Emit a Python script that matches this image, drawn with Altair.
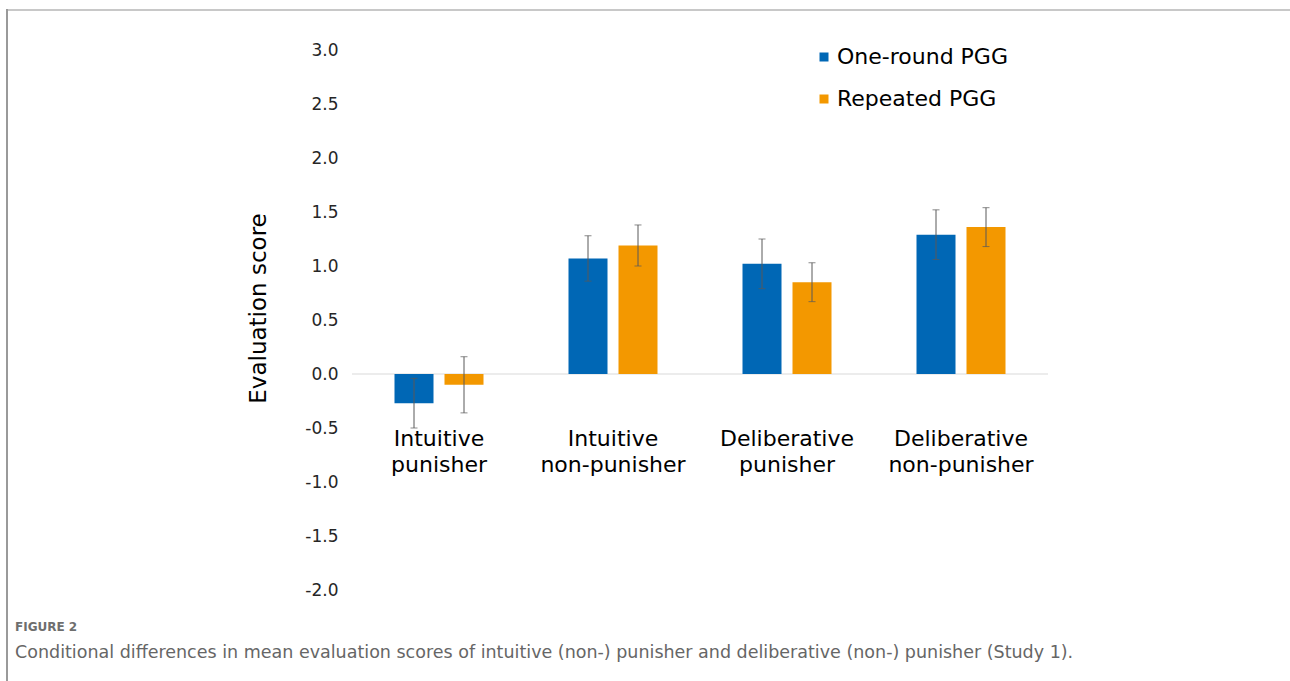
import altair as alt
import pandas as pd

categories = ["Intuitive punisher", "Intuitive non-punisher",
              "Deliberative punisher", "Deliberative non-punisher"]
series = ["One-round PGG", "Repeated PGG"]
one_round = [-0.27, 1.07, 1.02, 1.29]
one_round_err = [0.23, 0.21, 0.23, 0.23]
repeated = [-0.10, 1.19, 0.85, 1.36]
repeated_err = [0.26, 0.19, 0.18, 0.18]
y_ticks = [-2.0, -1.5, -1.0, -0.5, 0.0, 0.5, 1.0, 1.5, 2.0, 2.5, 3.0]
colors = ["#0067B5", "#F39800"]

rows = []
for i, c in enumerate(categories):
    for s, vals, errs in ((series[0], one_round, one_round_err), (series[1], repeated, repeated_err)):
        v, e = vals[i], errs[i]
        rows.append({"cat": c, "series": s, "value": v, "lo": v - e, "hi": v + e})
df = pd.DataFrame(rows)

FONT = "DejaVu Sans"

x_enc = alt.X("cat:N", sort=categories,
              scale=alt.Scale(paddingInner=0, paddingOuter=0),
              axis=alt.Axis(title=None, orient="bottom", offset=-216, domain=False, ticks=False,
                            labelAngle=0, labelFont=FONT, labelFontSize=22, labelColor="#000000",
                            labelPadding=54, labelLineHeight=26, labelBaseline="top",
                            labelExpr="split(datum.label, ' ')"))
xoff = alt.XOffset("series:N", sort=series,
                   scale=alt.Scale(domain=series, paddingInner=0.22, paddingOuter=0.85))
y_scale = alt.Scale(domain=[-2, 3], nice=False, zero=False)

base = alt.Chart(df)

bars = base.mark_bar(stroke=None).encode(
    x=x_enc,
    xOffset=xoff,
    y=alt.Y("value:Q", scale=y_scale,
            axis=alt.Axis(values=y_ticks, grid=False, domain=False, ticks=False,
                          labelExpr="datum.value < 0 ? '-' + format(-datum.value, '.1f') : format(datum.value, '.1f')",
                          labelFont=FONT, labelFontSize=17, labelColor="#262626", labelPadding=14,
                          title="Evaluation score", titleFont=FONT, titleFontSize=23,
                          titleFontWeight="normal", titleColor="#000000", titleAngle=270,
                          titleX=-94, titleY=258, titleAlign="center", titleBaseline="middle")),
    color=alt.Color("series:N", sort=series,
                    scale=alt.Scale(domain=series, range=colors),
                    legend=alt.Legend(title=None, orient="none", legendX=461, legendY=-4,
                                      symbolType="square", symbolSize=81, symbolStrokeWidth=0,
                                      labelFont=FONT, labelFontSize=22, labelColor="#000000",
                                      labelLimit=400, labelOffset=2, rowPadding=20)),
)

zero = alt.Chart(pd.DataFrame({"z": [0]})).mark_rule(color="#d9d9d9", strokeWidth=1).encode(
    y=alt.Y("z:Q", scale=y_scale))

err_color = "#595959"
err = base.mark_rule(color=err_color, strokeWidth=1).encode(
    x=alt.X("cat:N", sort=categories), xOffset=xoff,
    y=alt.Y("lo:Q", scale=y_scale), y2="hi:Q")
cap_top = base.mark_tick(color=err_color, thickness=1, size=7).encode(
    x=alt.X("cat:N", sort=categories), xOffset=xoff, y=alt.Y("hi:Q", scale=y_scale))
cap_bot = base.mark_tick(color=err_color, thickness=1, size=7).encode(
    x=alt.X("cat:N", sort=categories), xOffset=xoff, y=alt.Y("lo:Q", scale=y_scale))

one = pd.DataFrame({"a": [0]})
frame_top = alt.Chart(one).mark_rule(color="#c8c8c8", strokeWidth=2).encode(
    x=alt.value(-345), x2=alt.value(938), y=alt.value(-40))
frame_left = alt.Chart(one).mark_rule(color="#9a9a9a", strokeWidth=2).encode(
    x=alt.value(-345), y=alt.value(-41), y2=alt.value(631))

cap_label = alt.Chart(pd.DataFrame({"t": ["FIGURE 2"]})).mark_text(
    align="left", baseline="middle", font=FONT, fontSize=12, fontWeight="bold",
    color="#6e6e6e").encode(text="t:N", x=alt.value(-337), y=alt.value(577))
cap_text = alt.Chart(pd.DataFrame({"t": [
    "Conditional differences in mean evaluation scores of intuitive (non-) punisher and deliberative (non-) punisher (Study 1)."]})).mark_text(
    align="left", baseline="middle", font=FONT, fontSize=17.5,
    color="#666666").encode(text="t:N", x=alt.value(-337), y=alt.value(603))

chart = alt.layer(zero, bars, err, cap_top, cap_bot, frame_top, frame_left, cap_label, cap_text).properties(
    width=696, height=540,
    padding={"left": 352, "right": 242, "top": 50, "bottom": 91},
    autosize=alt.AutoSizeParams(type="none"),
    background="white",
).configure_view(stroke=None)

chart.save("out.html", embed_options={"renderer": "svg", "actions": False})
